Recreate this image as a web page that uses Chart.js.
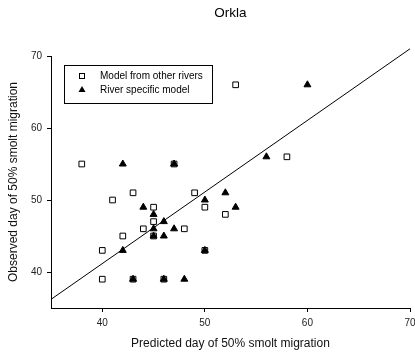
<!DOCTYPE html>
<html>
<head>
<meta charset="utf-8">
<script src="https://cdn.jsdelivr.net/npm/chart.js@4/dist/chart.umd.min.js"></script>
<style>
    html, body { margin: 0; padding: 0; background: #fff; }
    #wrap { width: 415px; height: 354px; position: relative; }
</style>
</head>
<body>
<div id="wrap"><canvas id="orklaChart"></canvas></div>
<script>
// Orkla: predicted vs observed day of 50% smolt migration
const chartTitle = 'Orkla';
const xTitle = 'Predicted day of 50% smolt migration';
const yTitle = 'Observed day of 50% smolt migration';
const tickValues = [40, 50, 60, 70];

const otherLabel = 'Model from other rivers';
const otherX = [38, 47, 41, 43, 45, 45, 44, 42, 45, 40, 40, 43, 46, 48, 49, 50, 50, 52, 58, 53];
const otherY = [55, 55, 50, 51, 49, 47, 46, 45, 45, 43, 39, 39, 39, 46, 51, 49, 43, 48, 56, 66];

const specificLabel = 'River specific model';
const specificX = [42, 47, 44, 45, 46, 45, 47, 45, 46, 42, 43, 46, 48, 50, 52, 50, 53, 56, 60];
const specificY = [55, 55, 49, 48, 47, 46, 46, 45, 45, 43, 39, 39, 39, 50, 51, 43, 49, 56, 66];

const lineX = [35, 70];
const lineY = [36.2, 71];

const font = '"Liberation Sans", Arial, sans-serif';

function toPoints(xs, ys) {
    return xs.map((x, i) => ({ x: x, y: ys[i] }));
}

function fixTicks(scale) {
    scale.ticks = tickValues.map(v => ({ value: v }));
}

// title over the plot area + boxed legend inside it
const extras = {
    id: 'extras',
    afterDraw(chart) {
        const ctx = chart.ctx;
        const area = chart.chartArea;
        ctx.save();
        ctx.fillStyle = '#000';
        ctx.font = '13.5px ' + font;
        ctx.textAlign = 'center';
        ctx.textBaseline = 'middle';
        ctx.fillText(chartTitle, (area.left + area.right) / 2, 13);

        // legend box
        ctx.strokeStyle = '#000';
        ctx.lineWidth = 1;
        ctx.strokeRect(64.5, 65.5, 148, 38);
        ctx.font = '10px ' + font;
        ctx.textAlign = 'left';
        ctx.fillText(otherLabel, 100, 76);
        ctx.fillText(specificLabel, 100, 90);

        ctx.fillStyle = '#fff';
        ctx.fillRect(79, 73, 6, 6);
        ctx.strokeRect(79.5, 73.5, 5, 5);
        ctx.fillStyle = '#000';
        ctx.beginPath();
        ctx.moveTo(82, 86);
        ctx.lineTo(85.5, 92);
        ctx.lineTo(78.5, 92);
        ctx.closePath();
        ctx.fill();
        ctx.restore();
    }
};

const ctx = document.getElementById('orklaChart').getContext('2d');
const orklaChart = new Chart(ctx, {
    type: 'scatter',
    data: {
        datasets: [
            {
                type: 'line',
                label: 'fit',
                data: toPoints(lineX, lineY),
                showLine: true,
                borderColor: '#000',
                borderWidth: 1,
                pointRadius: 0,
                clip: false,
                order: 3
            },
            {
                label: otherLabel,
                data: toPoints(otherX, otherY),
                pointStyle: 'rect',
                pointRadius: 4,
                backgroundColor: '#fff',
                borderColor: '#000',
                borderWidth: 1,
                order: 2
            },
            {
                label: specificLabel,
                data: toPoints(specificX, specificY),
                pointStyle: 'triangle',
                pointRadius: 4,
                backgroundColor: '#000',
                borderColor: '#000',
                borderWidth: 1,
                order: 1
            }
        ]
    },
    options: {
        responsive: true,
        maintainAspectRatio: false,
        animation: false,
        layout: { padding: { top: 56, right: 3, bottom: 0, left: 0 } },
        plugins: {
            legend: { display: false },
            title: { display: false },
            tooltip: { enabled: false }
        },
        scales: {
            x: {
                type: 'linear',
                min: 35,
                max: 70,
                afterBuildTicks: fixTicks,
                afterFit(scale) {
                    scale.height = 46;
                    scale.paddingLeft = 0;
                    scale.paddingRight = 0;
                },
                grid: { drawOnChartArea: false, drawTicks: true, tickLength: 4, color: '#000' },
                border: { color: '#000', width: 1 },
                ticks: {
                    padding: 5,
                    maxRotation: 0,
                    color: '#222',
                    font: { family: font, size: 10 }
                },
                title: {
                    display: true,
                    text: xTitle,
                    color: '#111',
                    font: { family: font, size: 12 },
                    padding: { top: 0, bottom: 3 }
                }
            },
            y: {
                type: 'linear',
                min: 35,
                max: 70,
                afterBuildTicks: fixTicks,
                afterFit(scale) {
                    scale.width = 51;
                    scale.paddingTop = 0;
                    scale.paddingBottom = 0;
                },
                grid: { drawOnChartArea: false, drawTicks: true, tickLength: 4, color: '#000' },
                border: { color: '#000', width: 1 },
                ticks: {
                    padding: 5,
                    color: '#222',
                    font: { family: font, size: 10 }
                },
                title: {
                    display: true,
                    text: yTitle,
                    color: '#111',
                    font: { family: font, size: 12 },
                    padding: { top: 6, bottom: 0 }
                }
            }
        }
    },
    plugins: [extras]
});
</script>
</body>
</html>
